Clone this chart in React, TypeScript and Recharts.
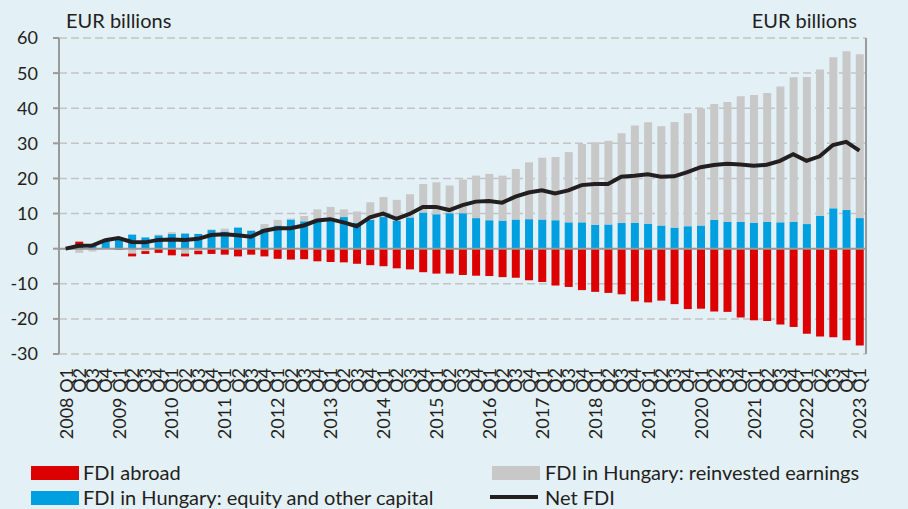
import React from "react";
import {
  ComposedChart,
  Bar,
  Line,
  XAxis,
  YAxis,
  CartesianGrid,
  ReferenceLine,
} from "recharts";

// quarters 2008 Q1 .. 2023 Q1
const years = [2008, 2009, 2010, 2011, 2012, 2013, 2014, 2015, 2016, 2017, 2018, 2019, 2020, 2021, 2022, 2023];
const quarters: string[] = [];
years.forEach((y) => {
  for (let q = 1; q <= 4; q++) {
    if (y === 2023 && q > 1) break;
    quarters.push(`${y} Q${q}`);
  }
});

// EUR billions
const fdiAbroad = [
  0, 1.0, 0, 0, -0.3, -0.8, -0.8, -1.2, -1.9, -0.8, -1.0, -1.5, -1.7, -2.2, -1.7, -2.2,
  -2.9, -3.1, -3.0, -3.6, -3.8, -3.9, -4.3, -4.7, -5.0, -5.6, -5.9, -6.7, -7.1, -7.1, -7.5,
  -7.7, -7.8, -8.1, -8.3, -9.0, -9.5, -10.5, -10.9, -11.8, -12.3, -12.6, -13.0, -15.0, -15.3,
  -14.8, -15.8, -17.2, -17.1, -17.9, -18.0, -19.6, -20.4, -20.6, -21.6, -22.3, -24.2, -25.0,
  -25.2, -26.1, -27.6,
];
const equity = [
  0, 1.0, 1.2, 2.1, 2.9, 4.0, 3.2, 3.8, 4.2, 4.3, 4.2, 5.3, 4.9, 6.0, 5.1, 5.7, 6.6, 8.3,
  7.8, 8.3, 8.5, 9.0, 7.4, 8.2, 9.0, 7.9, 8.9, 10.3, 9.8, 10.1, 10.1, 8.7, 8.1, 8.0, 8.3,
  8.4, 8.3, 8.1, 7.5, 7.5, 6.8, 6.9, 7.3, 7.4, 7.1, 6.6, 6.0, 6.4, 6.6, 8.2, 7.7, 7.6, 7.4,
  7.6, 7.5, 7.7, 7.0, 9.4, 11.5, 11.0, 8.7,
];
const reinvested = [
  0, -1.2, -0.8, 0, 0.1, -1.4, -0.7, 0.2, 0.5, -1.4, -0.6, 0.2, 0.8, 0, 0.2, 1.3, 1.6, 0.3,
  1.5, 2.9, 3.4, 2.2, 3.2, 5.0, 5.7, 6.0, 6.6, 8.1, 9.1, 7.9, 9.6, 12.1, 13.2, 12.8, 14.4,
  16.2, 17.6, 18.0, 20.0, 22.3, 23.5, 23.8, 25.6, 27.7, 28.9, 28.3, 30.1, 32.2, 33.3, 33.0,
  34.1, 35.8, 36.4, 36.7, 38.7, 41.1, 41.9, 41.6, 43.0, 45.2, 46.7,
];
const netFdi = [
  0, 0.8, 0.9, 2.4, 3.0, 1.9, 1.8, 2.5, 2.6, 2.5, 2.8, 3.9, 4.1, 3.8, 3.4, 5.1, 5.8, 5.8,
  6.6, 8.0, 8.4, 7.5, 6.4, 8.9, 10.0, 8.5, 9.9, 11.9, 11.9, 11.0, 12.4, 13.4, 13.6, 13.1,
  14.8, 16.0, 16.6, 15.7, 16.6, 18.1, 18.4, 18.4, 20.5, 20.8, 21.2, 20.5, 20.6, 21.8, 23.2,
  23.8, 24.2, 24.0, 23.6, 23.9, 25.0, 26.9, 25.0, 26.3, 29.5, 30.4, 27.9,
];
const yTicks = [-30, -20, -10, 0, 10, 20, 30, 40, 50, 60];

const data = quarters.map((name, i) => ({
  name,
  abroad: fdiAbroad[i],
  equity: equity[i],
  reinvested: reinvested[i],
  net: netFdi[i],
}));

const FONT = "Lato, 'Open Sans', sans-serif";
const TEXT = "#231F20";
const AXIS = "#9A9A9A";

const QuarterTick = (props: any) => {
  const { x, y, payload, index } = props;
  const label = index % 4 === 0 ? payload.value : payload.value.split(" ")[1];
  return (
    <text
      x={x}
      y={y}
      transform={`rotate(-90, ${x}, ${y})`}
      textAnchor="end"
      dominantBaseline="central"
      fontSize={18}
      fontFamily={FONT}
      fill={TEXT}
    >
      {label}
    </text>
  );
};

const RightTick = (props: any) => {
  const { x, y, payload } = props;
  return (
    <text x={x + 32} y={y} dy={6} textAnchor="end" fontSize={18} fontFamily={FONT} fill={TEXT}>
      {payload.value}
    </text>
  );
};

const swatch = (left: number, top: number, color: string, h = 14) => (
  <div style={{ position: "absolute", left, top, width: 48, height: h, background: color }} />
);

const label = (left: number, top: number, text: string) => (
  <div
    style={{
      position: "absolute",
      left,
      top,
      fontSize: 20,
      lineHeight: "22px",
      fontFamily: FONT,
      color: TEXT,
      whiteSpace: "nowrap",
    }}
  >
    {text}
  </div>
);

export default function App() {
  return (
    <div
      style={{
        position: "absolute",
        left: 0,
        top: 0,
        width: 908,
        height: 509,
        background: "#E3F0F6",
        overflow: "hidden",
      }}
    >
      <div style={{ position: "absolute", left: 66, top: 8, fontSize: 20, fontFamily: FONT, color: TEXT }}>
        EUR billions
      </div>
      <div style={{ position: "absolute", right: 51, top: 8, fontSize: 20, fontFamily: FONT, color: TEXT }}>
        EUR billions
      </div>

      <ComposedChart
        width={908}
        height={509}
        data={data}
        stackOffset="sign"
        margin={{ top: 38, right: 0, left: 0, bottom: 65 }}
        barSize={8}
      >
        <CartesianGrid
          yAxisId="left"
          vertical={false}
          stroke="#C4C4C4"
          strokeWidth={1.5}
          strokeDasharray="8 4"
        />
        <XAxis
          dataKey="name"
          interval={0}
          height={90}
          axisLine={false}
          tickLine={false}
          tickSize={0}
          tickMargin={14}
          tick={<QuarterTick />}
        />
        <YAxis
          yAxisId="left"
          width={59}
          domain={[-30, 60]}
          ticks={yTicks}
          interval={0}
          stroke={AXIS}
          strokeWidth={2}
          tickSize={6}
          tickMargin={15}
          tick={{ fontSize: 18, fontFamily: FONT, fill: TEXT }}
        />
        <YAxis
          yAxisId="right"
          orientation="right"
          width={42}
          domain={[-30, 60]}
          ticks={yTicks}
          interval={0}
          stroke={AXIS}
          strokeWidth={2}
          tickSize={6}
          tick={<RightTick />}
        />
        <ReferenceLine yAxisId="left" y={0} stroke={AXIS} strokeWidth={2} />
        <Bar yAxisId="left" dataKey="equity" stackId="a" fill="#009FE0" isAnimationActive={false} />
        <Bar yAxisId="left" dataKey="reinvested" stackId="a" fill="#C8C8C8" isAnimationActive={false} />
        <Bar yAxisId="left" dataKey="abroad" stackId="a" fill="#DC0000" isAnimationActive={false} />
        <Line
          yAxisId="left"
          dataKey="net"
          type="linear"
          stroke="#231F20"
          strokeWidth={4}
          dot={false}
          isAnimationActive={false}
        />
      </ComposedChart>

      {swatch(31, 466, "#DC0000")}
      {label(83, 461, "FDI abroad")}
      {swatch(31, 491, "#009FE0")}
      {label(83, 486, "FDI in Hungary: equity and other capital")}
      {swatch(492, 466, "#C8C8C8")}
      {label(545, 461, "FDI in Hungary: reinvested earnings")}
      {swatch(490, 495, "#231F20", 4)}
      {label(545, 486, "Net FDI")}
    </div>
  );
}
